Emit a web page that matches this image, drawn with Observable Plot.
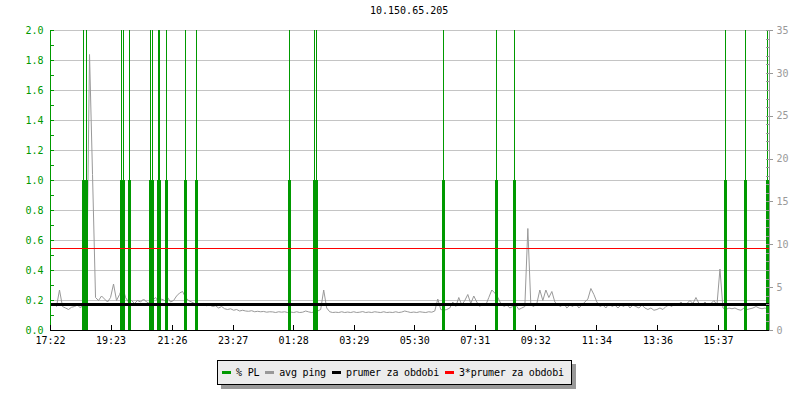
<!DOCTYPE html>
<html><head><meta charset="utf-8">
<script src="https://cdn.jsdelivr.net/npm/d3@7"></script>
<script src="https://cdn.jsdelivr.net/npm/@observablehq/plot@0.6"></script>
<style>
body{margin:0;background:#fff;}
#wrap{position:relative;width:800px;height:400px;font-family:'DejaVu Sans Mono',monospace;}
#title{position:absolute;left:370px;top:5px;font-size:10px;color:#000;white-space:nowrap;}
#legend{position:absolute;left:217px;top:360px;width:355px;height:25px;box-sizing:border-box;border:1px solid #000;background:#ececec;box-shadow:4px 4px 0 #999;display:flex;align-items:center;padding-left:4px;font-size:10px;letter-spacing:-0.2px;white-space:nowrap;color:#000;}
.sw{display:inline-block;width:9px;height:3px;margin-right:5px;}
.it{display:flex;align-items:center;margin-right:6px;}
</style></head>
<body>
<div id="wrap">
  <div id="chart"></div>
  <div id="title"></div>
  <div id="legend"></div>
</div>
<script>
const titleText = "10.150.65.205";
const tickLabels = ["17:22","19:23","21:26","23:27","01:28","03:29","05:30","07:31","09:32","11:34","13:36","15:37"];
const xEnd = 1437;          // minutes shown after 17:22
const pingStep = 6;         // minutes between ping samples
const pingValues = [
  0.17,0.18,0.16,0.27,0.16,0.15,0.14,0.155,0.16,0.17,
  0.15,0.19,0.2,1.84,1.04,0.22,0.2,0.23,0.21,0.19,
  0.22,0.31,0.2,0.24,0.29,0.22,0.19,0.2,0.18,0.2,
  0.19,0.21,0.19,0.18,0.2,0.22,0.19,0.21,0.2,0.22,
  0.19,0.2,0.23,0.25,0.26,0.22,0.2,0.19,0.18,0.18,
  0.17,0.18,0.165,0.17,0.16,0.165,0.15,0.16,0.145,0.14,
  0.145,0.135,0.14,0.13,0.135,0.13,0.128,0.132,0.125,0.128,
  0.125,0.127,0.122,0.125,0.124,0.12,0.125,0.122,0.125,0.12,
  0.123,0.12,0.125,0.12,0.122,0.13,0.124,0.12,0.125,0.13,
  0.14,0.27,0.15,0.125,0.12,0.122,0.12,0.125,0.12,0.123,
  0.12,0.125,0.12,0.122,0.126,0.12,0.123,0.12,0.125,0.122,
  0.12,0.125,0.12,0.122,0.12,0.125,0.12,0.123,0.13,0.125,
  0.12,0.123,0.12,0.125,0.122,0.12,0.125,0.122,0.13,0.21,
  0.14,0.135,0.14,0.15,0.19,0.16,0.22,0.17,0.2,0.24,
  0.18,0.23,0.19,0.16,0.18,0.17,0.22,0.27,0.25,0.22,
  0.18,0.16,0.17,0.15,0.16,0.17,0.14,0.15,0.16,0.68,
  0.17,0.16,0.18,0.27,0.2,0.27,0.22,0.26,0.19,0.17,
  0.16,0.18,0.15,0.17,0.16,0.18,0.15,0.17,0.19,0.21,
  0.28,0.24,0.19,0.16,0.17,0.15,0.18,0.16,0.17,0.15,
  0.17,0.16,0.18,0.15,0.17,0.16,0.15,0.17,0.15,0.14,
  0.15,0.135,0.14,0.15,0.14,0.16,0.17,0.16,0.18,0.17,
  0.19,0.17,0.18,0.2,0.18,0.22,0.18,0.17,0.19,0.17,
  0.18,0.2,0.17,0.41,0.15,0.14,0.15,0.145,0.15,0.14,
  0.135,0.15,0.14,0.145,0.15,0.16,0.15,0.145,0.15,0.14
];
const plMinutes = [66,72,142,145,158,200,204,215,218,232,270,292,478,528,532,785,891,927,1349,1389,1433];
const plBarTop = 1.0;
const leftMax = 2.0;
const rightMax = 35;
const meanPing = 0.175;
const threeMeanPing = 0.545;
const leftTicks = [0,0.2,0.4,0.6,0.8,1.0,1.2,1.4,1.6,1.8,2.0];
const leftMinor = [0,0.1,0.2,0.3,0.4,0.5,0.6,0.7,0.8,0.9,1.0,1.1,1.2,1.3,1.4,1.5,1.6,1.7,1.8,1.9,2.0];
const rightTicks = [0,5,10,15,20,25,30,35];
const rightMinor = Array.from({length: rightMax + 1}, (_, i) => i);

const green = "#009900", gray = "#999999", grid = "#c4c4c4";
const crisp = "crispEdges";
const ratio = rightMax / leftMax;
const [h0, m0] = tickLabels[0].split(":").map(Number);
const tickMinutes = tickLabels.map(s => {
  const [h, m] = s.split(":").map(Number);
  let t = h * 60 + m - (h0 * 60 + m0);
  if (t < 0) t += 1440;
  return t;
});
const labelAt = new Map(tickMinutes.map((t, i) => [t, tickLabels[i]]));
const ping = pingValues.map((v, i) => ({t: i * pingStep, v}));

const chart = Plot.plot({
  width: 800, height: 400,
  marginLeft: 50, marginRight: 31, marginTop: 30, marginBottom: 70,
  style: {fontFamily: "'DejaVu Sans Mono', monospace", fontSize: "10px", background: "transparent", overflow: "visible"},
  x: {domain: [0, xEnd], axis: null},
  y: {domain: [0, leftMax], axis: null},
  marks: [
    Plot.ruleY(leftTicks, {stroke: grid, strokeWidth: 1, shapeRendering: crisp}),
    Plot.line(ping, {x: "t", y: "v", stroke: gray, strokeWidth: 1}),
    Plot.ruleX(plMinutes, {x: d => d, y1: 0, y2: leftMax, stroke: green, strokeWidth: 1, shapeRendering: crisp}),
    Plot.ruleX(plMinutes, {x: d => d, y1: 0, y2: plBarTop, stroke: green, strokeWidth: 3, shapeRendering: crisp}),
    Plot.ruleY([meanPing], {stroke: "#000", strokeWidth: 3, shapeRendering: crisp}),
    Plot.ruleY([threeMeanPing], {stroke: "#ff0000", strokeWidth: 1, shapeRendering: crisp}),
    // left axis
    Plot.ruleX([0], {stroke: green, shapeRendering: crisp}),
    Plot.axisY(leftMinor, {anchor: "left", tickSize: -4, tickFormat: () => "", stroke: green, label: null, shapeRendering: crisp}),
    Plot.axisY(leftTicks, {anchor: "left", tickSize: 0, tickPadding: 7, tickFormat: d => d.toFixed(1), fill: green, label: null}),
    // right axis
    Plot.ruleX([xEnd], {stroke: gray, shapeRendering: crisp}),
    Plot.axisY(rightMinor.map(v => v / ratio), {anchor: "right", tickSize: -4, tickFormat: () => "", stroke: gray, label: null, shapeRendering: crisp}),
    Plot.axisY(rightTicks.map(v => v / ratio), {anchor: "right", tickSize: 3, tickPadding: 4, tickFormat: d => String(Math.round(d * ratio)), stroke: gray, fill: gray, label: null, shapeRendering: crisp}),
    // bottom axis
    Plot.ruleY([0], {stroke: "#000", shapeRendering: crisp}),
    Plot.axisX(tickMinutes, {anchor: "bottom", tickSize: -5, tickFormat: () => "", stroke: "#000", label: null, shapeRendering: crisp}),
    Plot.axisX(tickMinutes, {anchor: "bottom", tickSize: 0, tickPadding: 6, tickFormat: d => labelAt.get(d), fill: "#000", label: null})
  ]
});
document.getElementById("chart").appendChild(chart);
document.getElementById("title").textContent = titleText;

const legendItems = [
  {label: "% PL", color: green},
  {label: "avg ping", color: gray},
  {label: "prumer za obdobi", color: "#000"},
  {label: "3*prumer za obdobi", color: "#ff0000"}
];
const lg = document.getElementById("legend");
legendItems.forEach(it => {
  const d = document.createElement("span"); d.className = "it";
  const s = document.createElement("span"); s.className = "sw"; s.style.background = it.color;
  const t = document.createElement("span"); t.textContent = it.label;
  d.appendChild(s); d.appendChild(t); lg.appendChild(d);
});
</script>
</body></html>
